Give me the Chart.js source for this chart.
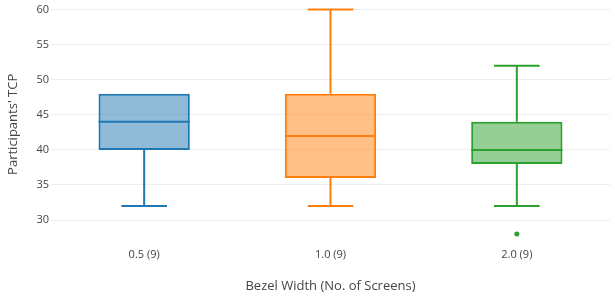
<!DOCTYPE html>
<html>
<head>
<meta charset="utf-8">
<script src="https://cdn.jsdelivr.net/npm/chart.js@4/dist/chart.umd.min.js"></script>
<style>
  html, body { margin: 0; padding: 0; background: #fff; }
  #wrap { width: 615px; height: 304px; }
</style>
</head>
<body>
<div id="wrap"><canvas id="c"></canvas></div>
<script>
// categories and box statistics
const labels = ['0.5 (9)', '1.0 (9)', '2.0 (9)'];
const q1 = [40, 36, 38];
const q3 = [48, 48, 44];
const medians = [44, 42, 40];
const lowWhisker = [32, 32, 32];
const highWhisker = [48, 60, 52];
const outliers = [null, null, 28];
const yTicks = [30, 35, 40, 45, 50, 55, 60];

const lineColors = ['#1f77b4', '#ff7f0e', '#2ca02c'];
const fillColors = ['rgba(31,119,180,0.5)', 'rgba(255,127,14,0.5)', 'rgba(44,160,44,0.5)'];

const font = "'Open Sans', sans-serif";

// medians + whiskers, placed with the chart's own scales
const boxPlot = {
  id: 'boxPlot',
  afterDatasetsDraw(chart) {
    const x = chart.scales.x, y = chart.scales.y;
    const bars = chart.getDatasetMeta(0).data;
    const ctx = chart.ctx;
    ctx.save();
    ctx.lineWidth = 2;
    labels.forEach((lab, i) => {
      const cx = x.getPixelForValue(i);
      const half = bars[i].width / 2;
      const cap = half / 2;
      ctx.strokeStyle = lineColors[i];
      ctx.beginPath();
      // median
      ctx.moveTo(cx - half, y.getPixelForValue(medians[i]));
      ctx.lineTo(cx + half, y.getPixelForValue(medians[i]));
      // lower whisker
      if (lowWhisker[i] < q1[i]) {
        ctx.moveTo(cx, y.getPixelForValue(q1[i]));
        ctx.lineTo(cx, y.getPixelForValue(lowWhisker[i]));
        ctx.moveTo(cx - cap, y.getPixelForValue(lowWhisker[i]));
        ctx.lineTo(cx + cap, y.getPixelForValue(lowWhisker[i]));
      }
      // upper whisker
      if (highWhisker[i] > q3[i]) {
        ctx.moveTo(cx, y.getPixelForValue(q3[i]));
        ctx.lineTo(cx, y.getPixelForValue(highWhisker[i]));
        ctx.moveTo(cx - cap, y.getPixelForValue(highWhisker[i]));
        ctx.lineTo(cx + cap, y.getPixelForValue(highWhisker[i]));
      }
      ctx.stroke();
    });
    ctx.restore();
  }
};

new Chart(document.getElementById('c'), {
  type: 'bar',
  data: {
    labels: labels,
    datasets: [
      {
        data: labels.map((_, i) => [q1[i], q3[i]]),
        backgroundColor: fillColors,
        borderColor: lineColors,
        borderWidth: 2,
        borderSkipped: false,
        categoryPercentage: 1,
        barPercentage: 0.49
      },
      {
        type: 'line',
        data: outliers,
        showLine: false,
        pointRadius: 2.5,
        pointBackgroundColor: lineColors[2],
        pointBorderWidth: 0
      }
    ]
  },
  options: {
    responsive: true,
    maintainAspectRatio: false,
    animation: false,
    layout: { padding: { top: 0, right: 5, left: 0, bottom: 0 } },
    plugins: { legend: { display: false }, tooltip: { enabled: false } },
    scales: {
      x: {
        grid: { display: false, drawTicks: false },
        border: { display: false },
        ticks: { color: '#444', padding: 8, font: { family: font, size: 11 } },
        title: { display: true, text: 'Bezel Width (No. of Screens)', color: '#444',
                 padding: { top: 0, bottom: 10 }, font: { family: font, size: 13 } },
        afterFit: s => { s.height = 64; }
      },
      y: {
        min: 27.16,
        max: 60.14,
        afterBuildTicks: s => { s.ticks = yTicks.map(v => ({ value: v })); },
        grid: { color: '#eeeeee', lineWidth: 1, drawTicks: false },
        border: { display: false },
        ticks: { color: '#444', padding: 2, font: { family: font, size: 11 } },
        title: { display: true, text: "Participants' TCP", color: '#444',
                 padding: { top: 5, bottom: 0 }, font: { family: font, size: 13 } },
        afterFit: s => { s.width = 51; }
      }
    }
  },
  plugins: [boxPlot]
});
</script>
</body>
</html>
